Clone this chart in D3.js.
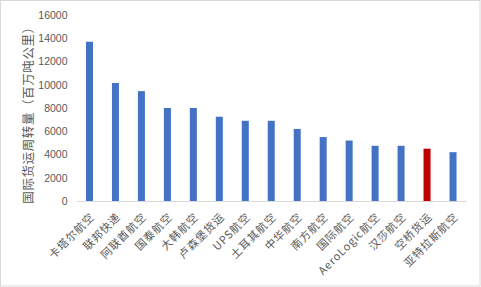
<!DOCTYPE html>
<html><head><meta charset="utf-8">
<script src="https://cdn.jsdelivr.net/npm/d3@7"></script>
<style>html,body{margin:0;padding:0;background:#fff;}svg{display:block;}</style>
</head><body>
<script>
const categories = ["卡塔尔航空","联邦快递","阿联酋航空","国泰航空","大韩航空","卢森堡货运","UPS航空","土耳其航空","中华航空","南方航空","国际航空","AeroLogic航空","汉莎航空","空桥货运","亚特拉斯航空"];
const values = [13700,10150,9450,8000,8000,7250,6900,6900,6200,5500,5200,4750,4750,4500,4200];
const highlight = ["空桥货运"];
const yTicks = [0,2000,4000,6000,8000,10000,12000,14000,16000];
const yTitle = "国际货运周转量（百万吨公里）";

const W = 481, H = 287;
const svg = d3.select("body").append("svg").attr("width", W).attr("height", H);
svg.append("rect").attr("x",0.5).attr("y",0.5).attr("width",W-1.5).attr("height",H-1.5)
  .attr("fill","#fff").attr("stroke","#d9d9d9");

const x = d3.scaleBand().domain(categories).range([76.5, 466]).paddingInner(0.73).paddingOuter(0.365);
const y = d3.scaleLinear().domain([0,16000]).range([201, 15]);

svg.selectAll("rect.bar").data(categories).enter().append("rect")
  .attr("class","bar")
  .attr("x", d => x(d)).attr("width", x.bandwidth())
  .attr("y", (d,i) => y(values[i])).attr("height", (d,i) => y(0) - y(values[i]))
  .attr("fill", d => highlight.includes(d) ? "#C00000" : "#4472C4");

const yAxis = svg.append("g").attr("transform","translate(76.5,0)")
  .call(d3.axisLeft(y).tickValues(yTicks).tickSize(0).tickPadding(9).tickFormat(d3.format("d")));
yAxis.select(".domain").remove();
yAxis.selectAll("text").attr("fill","#595959").style("font-family","'Liberation Sans', Arial, sans-serif").style("font-size","10.5px");

const xAxis = svg.append("g").attr("transform","translate(0,201)")
  .call(d3.axisBottom(x).tickSize(0).tickPadding(0));
xAxis.select(".domain").attr("stroke","#d9d9d9").attr("stroke-width",1.2);
xAxis.selectAll("text")
  .attr("fill","#595959")
  .style("font-family","'Noto Sans CJK SC','Liberation Sans',sans-serif")
  .style("font-size","11px")
  .style("letter-spacing","0.8px")
  .attr("text-anchor","end")
  .attr("dy","0.35em")
  .attr("transform","translate(3,14) rotate(-45)")
  .attr("y",0).attr("x",0);

svg.append("text")
  .attr("transform","translate(29,112) rotate(-90)")
  .attr("text-anchor","middle").attr("dy","0.35em")
  .attr("fill","#595959")
  .style("font-family","'Noto Sans CJK SC',sans-serif")
  .style("font-size","12.5px")
  .style("letter-spacing","0.6px")
  .text(yTitle);
</script>
</body></html>
